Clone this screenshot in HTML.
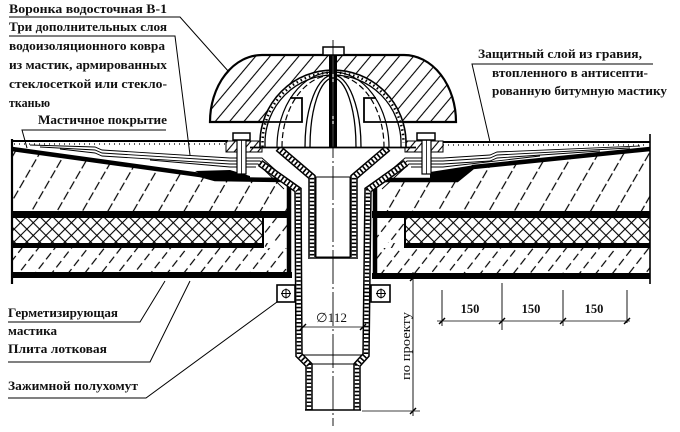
<!DOCTYPE html>
<html><head><meta charset="utf-8">
<style>
html,body{margin:0;padding:0;background:#fff;}
svg{display:block;}
text{font-family:"Liberation Serif","DejaVu Serif",serif;font-weight:bold;font-size:12.5px;fill:#111;}
.r{font-weight:normal;font-size:13px;}
</style></head>
<body>
<svg width="680" height="432" viewBox="0 0 680 432" xmlns="http://www.w3.org/2000/svg">
<defs>
  <pattern id="hU" patternUnits="userSpaceOnUse" width="22" height="12" patternTransform="rotate(30)">
    <line x1="1" y1="0" x2="1" y2="9" stroke="#000" stroke-width="1.2"/>
  </pattern>
  <pattern id="hL" patternUnits="userSpaceOnUse" width="13" height="12" patternTransform="rotate(38)">
    <line x1="1" y1="0" x2="1" y2="8" stroke="#000" stroke-width="1.2"/>
  </pattern>
  <pattern id="hC" patternUnits="userSpaceOnUse" width="11" height="10" patternTransform="rotate(40)">
    <line x1="1" y1="0" x2="1" y2="10" stroke="#000" stroke-width="1.1"/>
  </pattern>
  <pattern id="hF" patternUnits="userSpaceOnUse" width="6" height="10" patternTransform="rotate(40)">
    <line x1="1" y1="0" x2="1" y2="10" stroke="#000" stroke-width="1.1"/>
  </pattern>
  <pattern id="x1" patternUnits="userSpaceOnUse" width="9" height="10" patternTransform="rotate(45)">
    <line x1="1" y1="0" x2="1" y2="10" stroke="#000" stroke-width="1.1"/>
  </pattern>
  <pattern id="x2" patternUnits="userSpaceOnUse" width="9" height="10" patternTransform="rotate(-45)">
    <line x1="1" y1="0" x2="1" y2="10" stroke="#000" stroke-width="1.1"/>
  </pattern>
</defs>

<!-- ============ LEFT SLAB ============ -->
<polygon points="12,150 215,179 288,181 288,276 12,276" fill="url(#hU)"/>
<rect x="12" y="248" width="276" height="25" fill="#fff"/>
<rect x="12" y="248" width="276" height="25" fill="url(#hL)"/>
<rect x="263" y="218" width="25" height="25" fill="#fff"/>
<rect x="263" y="218" width="25" height="25" fill="url(#hL)"/>
<rect x="12" y="218" width="251" height="25" fill="#fff"/>
<rect x="12" y="218" width="251" height="25" fill="url(#x1)"/>
<rect x="12" y="218" width="251" height="25" fill="url(#x2)"/>
<line x1="263" y1="218" x2="263" y2="246" stroke="#000" stroke-width="2"/>
<rect x="12" y="211" width="278" height="7" fill="#000"/>
<rect x="12" y="243" width="252" height="5" fill="#000"/>
<rect x="12" y="272" width="280" height="6" fill="#000"/>
<polyline points="12,149 200,175 215,179 284,180 289,185 289,278" fill="none" stroke="#000" stroke-width="4.5"/>
<polygon points="195,171 230,170 250,176 250,181 215,181" fill="#000"/>
<line x1="12" y1="139" x2="12" y2="284" stroke="#000" stroke-width="2.2"/>

<!-- ============ RIGHT SLAB ============ -->
<polygon points="376,181 457,181 473,168 650,150 650,276 376,276" fill="url(#hU)"/>
<rect x="376" y="248" width="274" height="25" fill="#fff"/>
<rect x="376" y="248" width="274" height="25" fill="url(#hL)"/>
<rect x="376" y="218" width="29" height="25" fill="#fff"/>
<rect x="376" y="218" width="29" height="25" fill="url(#hL)"/>
<rect x="405" y="218" width="245" height="25" fill="#fff"/>
<rect x="405" y="218" width="245" height="25" fill="url(#x1)"/>
<rect x="405" y="218" width="245" height="25" fill="url(#x2)"/>
<line x1="405" y1="218" x2="405" y2="246" stroke="#000" stroke-width="2"/>
<rect x="372" y="211" width="278" height="7" fill="#000"/>
<rect x="404" y="243" width="246" height="5" fill="#000"/>
<rect x="372" y="273" width="278" height="6" fill="#000"/>
<polyline points="650,149 473,167 457,180 380,180 375,185 375,279" fill="none" stroke="#000" stroke-width="4.5"/>
<polygon points="430,172 475,165 470,170 457,180 430,180" fill="#000"/>
<line x1="650" y1="134" x2="650" y2="284" stroke="#000" stroke-width="1.6"/>

<!-- ============ TOP GRAVEL / LAYERS ============ -->
<line x1="12" y1="141" x2="228" y2="141" stroke="#000" stroke-width="2"/>
<line x1="14" y1="144" x2="228" y2="144" stroke="#000" stroke-width="1.2" stroke-dasharray="1 4"/>
<line x1="443" y1="142" x2="650" y2="142" stroke="#000" stroke-width="2"/>
<line x1="443" y1="145" x2="648" y2="145" stroke="#000" stroke-width="1.2" stroke-dasharray="1 4"/>

<g fill="none" stroke="#000" stroke-width="0.9">
  <polyline points="30,145 95,147 102,150 230,158 262,158 290,183"/>
  <polyline points="40,147 95,150 102,153 230,161 260,161 287,186"/>
  <polyline points="60,149 95,153 102,156 230,164 258,164 284,189"/>
  <polyline points="150,160 230,167 256,167"/>
  <polyline points="640,146 497,152 490,155 443,158 405,158 376,183"/>
  <polyline points="630,148 497,155 490,158 443,161 407,161 379,186"/>
  <polyline points="600,151 497,158 490,161 443,164 409,164 382,189"/>
  <polyline points="540,156 443,167 411,167"/>
</g>

<!-- flange plates -->
<rect x="226" y="141" width="36" height="11" fill="#fff" stroke="#000" stroke-width="1"/>
<rect x="226" y="141" width="36" height="11" fill="url(#hF)"/>
<rect x="405" y="141" width="38" height="11" fill="#fff" stroke="#000" stroke-width="1"/>
<rect x="405" y="141" width="38" height="11" fill="url(#hF)"/>

<!-- ============ PIPES / FUNNEL ============ -->
<!-- interior white -->
<polygon points="283,150 383,150 354,177 312,177" fill="#fff"/>
<rect x="316" y="177" width="34" height="80" fill="#fff" stroke="#000" stroke-width="1"/>
<rect x="303" y="258" width="59" height="97" fill="#fff"/>
<rect x="313" y="365" width="40" height="45" fill="#fff"/>

<g fill="none" stroke-linejoin="miter">
  <!-- sleeve / downpipe left -->
  <polyline points="260,163 298,190 299,355 309,365 309,410" stroke="#000" stroke-width="7.5"/>
  <polyline points="260,163 298,190 299,355 309,365 309,410" stroke="#fff" stroke-width="4.5"/>
  <polyline points="260,163 298,190 299,355 309,365 309,410" stroke="#000" stroke-width="4.5" stroke-dasharray="1.6 2.2"/>
  <!-- sleeve / downpipe right -->
  <polyline points="406,163 368,190 366,355 357,365 357,410" stroke="#000" stroke-width="7.5"/>
  <polyline points="406,163 368,190 366,355 357,365 357,410" stroke="#fff" stroke-width="4.5"/>
  <polyline points="406,163 368,190 366,355 357,365 357,410" stroke="#000" stroke-width="4.5" stroke-dasharray="1.6 2.2"/>
  <!-- nozzle left -->
  <polyline points="278,148 312,177 312,257" stroke="#000" stroke-width="7.5"/>
  <polyline points="278,148 312,177 312,257" stroke="#fff" stroke-width="4.5"/>
  <polyline points="278,148 312,177 312,257" stroke="#000" stroke-width="4.5" stroke-dasharray="1.6 2.2"/>
  <!-- nozzle right -->
  <polyline points="388,148 354,177 354,257" stroke="#000" stroke-width="7.5"/>
  <polyline points="388,148 354,177 354,257" stroke="#fff" stroke-width="4.5"/>
  <polyline points="388,148 354,177 354,257" stroke="#000" stroke-width="4.5" stroke-dasharray="1.6 2.2"/>
</g>
<line x1="308" y1="258" x2="358" y2="258" stroke="#000" stroke-width="1.6"/>
<line x1="302" y1="355" x2="364" y2="355" stroke="#000" stroke-width="1"/>
<line x1="312" y1="364" x2="354" y2="364" stroke="#000" stroke-width="1"/>
<line x1="305" y1="410" x2="361" y2="410" stroke="#000" stroke-width="1.6"/>

<!-- clamps -->
<rect x="277" y="285" width="18" height="17" fill="#fff" stroke="#000" stroke-width="1.6"/>
<circle cx="286" cy="293.5" r="4" fill="none" stroke="#000" stroke-width="1.1"/>
<line x1="281" y1="293.5" x2="291" y2="293.5" stroke="#000" stroke-width="1"/>
<line x1="286" y1="288.5" x2="286" y2="298.5" stroke="#000" stroke-width="1"/>
<rect x="371" y="285" width="19" height="17" fill="#fff" stroke="#000" stroke-width="1.6"/>
<circle cx="381" cy="293.5" r="4" fill="none" stroke="#000" stroke-width="1.1"/>
<line x1="376" y1="293.5" x2="386" y2="293.5" stroke="#000" stroke-width="1"/>
<line x1="381" y1="288.5" x2="381" y2="298.5" stroke="#000" stroke-width="1"/>

<!-- ============ CAP & DOME ============ -->
<path d="M210,122 A52,67 0 0 1 262,55 L404,55 A52,67 0 0 1 456,122 Z" fill="#fff"/>
<path d="M210,122 A52,67 0 0 1 262,55 L404,55 A52,67 0 0 1 456,122 Z" fill="url(#hC)" stroke="#000" stroke-width="2.2"/>
<path d="M260,147 L260,143 A73,73 0 0 1 406,143 L406,147 Z" fill="#fff"/>
<!-- outer rib -->
<path d="M260,147 L260,143 A73,73 0 0 1 406,143 L406,147" fill="none" stroke="#000" stroke-width="1.6"/>
<path d="M265,147 L265,143 A68,68 0 0 1 401,143 L401,147" fill="none" stroke="#000" stroke-width="1.3"/>
<path d="M262.5,147 L262.5,143 A70.5,70.5 0 0 1 403.5,143" fill="none" stroke="#000" stroke-width="2.5" stroke-dasharray="1.5 3"/>
<!-- bottom rim lines inside dome + lugs -->
<polyline points="263,122 302,122 302,98 290,98" fill="none" stroke="#000" stroke-width="1.8"/>
<polyline points="403,122 364,122 364,98 376,98" fill="none" stroke="#000" stroke-width="1.8"/>
<!-- second rib -->
<path d="M277,147 A56,75 0 0 1 389,147" fill="none" stroke="#000" stroke-width="1.2"/>
<path d="M282,147 A51,72 0 0 1 384,147" fill="none" stroke="#000" stroke-width="1.2" stroke-dasharray="6 3"/>
<!-- third rib -->
<path d="M305,147 A28,72 0 0 1 361,147" fill="none" stroke="#000" stroke-width="1.3"/>
<path d="M310,147 A23,69 0 0 1 356,147" fill="none" stroke="#000" stroke-width="1.3"/>
<!-- central rod & nut -->
<rect x="329" y="55" width="8" height="92" fill="#000"/>
<line x1="333" y1="55" x2="333" y2="147" stroke="#fff" stroke-width="1.2"/>
<rect x="323" y="47" width="21" height="8" fill="#fff" stroke="#000" stroke-width="1.5"/>
<!-- base line -->
<line x1="250" y1="147.5" x2="416" y2="147.5" stroke="#000" stroke-width="1.8"/>

<!-- bolts -->
<rect x="237" y="140" width="9" height="34" fill="#fff" stroke="#000" stroke-width="1.2"/>
<line x1="241.5" y1="140" x2="241.5" y2="174" stroke="#000" stroke-width="0.8"/>
<rect x="233" y="133" width="17" height="7" fill="#fff" stroke="#000" stroke-width="1.5"/>
<rect x="422" y="140" width="9" height="34" fill="#fff" stroke="#000" stroke-width="1.2"/>
<line x1="426.5" y1="140" x2="426.5" y2="174" stroke="#000" stroke-width="0.8"/>
<rect x="417" y="133" width="18" height="7" fill="#fff" stroke="#000" stroke-width="1.5"/>

<!-- center line -->
<line x1="333" y1="40" x2="333" y2="426" stroke="#000" stroke-width="0.9" stroke-dasharray="34 3 2 3"/>

<!-- ============ DIMENSIONS ============ -->
<line x1="303" y1="327" x2="363" y2="327" stroke="#000" stroke-width="0.8"/>
<line x1="300" y1="330" x2="306" y2="324" stroke="#000" stroke-width="1.4"/>
<line x1="360" y1="330" x2="366" y2="324" stroke="#000" stroke-width="1.4"/>
<text class="r" x="316" y="322" textLength="31" lengthAdjust="spacingAndGlyphs">∅112</text>

<line x1="413" y1="272" x2="413" y2="416" stroke="#000" stroke-width="0.9"/>
<line x1="362" y1="411" x2="420" y2="411" stroke="#000" stroke-width="0.8"/>
<line x1="410" y1="281" x2="416" y2="275" stroke="#000" stroke-width="1.4"/>
<line x1="410" y1="414" x2="416" y2="408" stroke="#000" stroke-width="1.4"/>
<text class="r" x="406" y="346" text-anchor="middle" transform="rotate(-90 406 346)" textLength="68" lengthAdjust="spacingAndGlyphs" dy="4">по проекту</text>

<g stroke="#000">
  <line x1="442" y1="290" x2="442" y2="326" stroke-width="0.9"/>
  <line x1="502" y1="283" x2="502" y2="330" stroke-width="0.9"/>
  <line x1="563" y1="290" x2="563" y2="326" stroke-width="0.9"/>
  <line x1="627" y1="290" x2="627" y2="323" stroke-width="0.9"/>
  <line x1="437" y1="321" x2="630" y2="321" stroke-width="0.8"/>
  <line x1="439" y1="324" x2="445" y2="318" stroke-width="1.4"/>
  <line x1="499" y1="324" x2="505" y2="318" stroke-width="1.4"/>
  <line x1="560" y1="324" x2="566" y2="318" stroke-width="1.4"/>
  <line x1="624" y1="324" x2="630" y2="318" stroke-width="1.4"/>
</g>
<text x="470" y="313" text-anchor="middle">150</text>
<text x="531" y="313" text-anchor="middle">150</text>
<text x="594" y="313" text-anchor="middle">150</text>

<!-- ============ LEADERS ============ -->
<g fill="none" stroke="#000" stroke-width="1">
  <polyline points="9,17 180,17 229,72"/>
  <polyline points="9,36 175,36 190,155"/>
  <polyline points="166,130 22,130 27,148"/>
  <polyline points="653,64 472,64 490,142"/>
  <polyline points="8,322 140,322 165,281"/>
  <polyline points="8,362 150,362 190,281"/>
  <polyline points="8,398 146,398 277,302"/>
</g>

<!-- ============ LABELS ============ -->
<text x="9" y="13" textLength="158" lengthAdjust="spacingAndGlyphs">Воронка водосточная В-1</text>
<text x="9" y="31" textLength="158" lengthAdjust="spacingAndGlyphs">Три дополнительных слоя</text>
<text x="9" y="50" textLength="156" lengthAdjust="spacingAndGlyphs">водоизоляционного ковра</text>
<text x="9" y="69" textLength="158" lengthAdjust="spacingAndGlyphs">из мастик, армированных</text>
<text x="9" y="88" textLength="158" lengthAdjust="spacingAndGlyphs">стеклосеткой или стекло-</text>
<text x="9" y="107" textLength="41" lengthAdjust="spacingAndGlyphs">тканью</text>
<text x="38" y="124" textLength="129" lengthAdjust="spacingAndGlyphs">Мастичное покрытие</text>

<text x="478" y="58" textLength="164" lengthAdjust="spacingAndGlyphs">Защитный слой из гравия,</text>
<text x="492" y="77" textLength="156" lengthAdjust="spacingAndGlyphs">втопленного в антисепти-</text>
<text x="492" y="95" textLength="175" lengthAdjust="spacingAndGlyphs">рованную битумную мастику</text>

<text x="8" y="317" textLength="110" lengthAdjust="spacingAndGlyphs">Герметизирующая</text>
<text x="8" y="335" textLength="49" lengthAdjust="spacingAndGlyphs">мастика</text>
<text x="8" y="353" textLength="99" lengthAdjust="spacingAndGlyphs">Плита лотковая</text>
<text x="8" y="390" textLength="130" lengthAdjust="spacingAndGlyphs">Зажимной полухомут</text>
</svg>
</body></html>
